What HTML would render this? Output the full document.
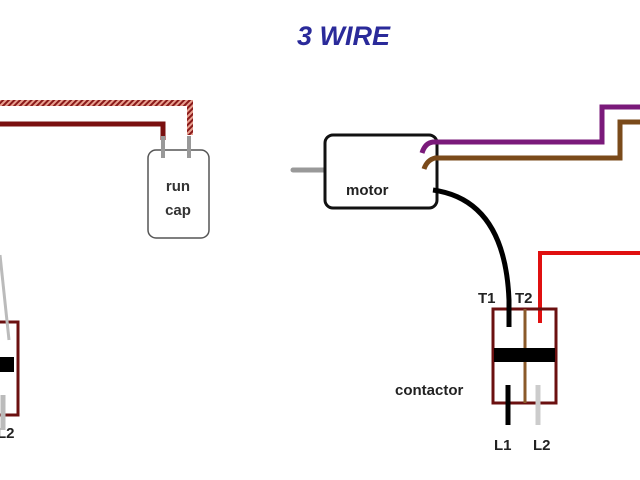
<!DOCTYPE html>
<html><head><style>
html,body{margin:0;padding:0;background:#fff;width:640px;height:480px;overflow:hidden}
svg{display:block}
text{font-family:"Liberation Sans",sans-serif;font-weight:bold}
</style></head><body>
<svg width="640" height="480" viewBox="0 0 640 480" xmlns="http://www.w3.org/2000/svg">
<defs>
<pattern id="hatch" width="4" height="4" patternUnits="userSpaceOnUse" patternTransform="rotate(45)">
<rect width="4" height="4" fill="#e8a090"/><rect width="2" height="4" fill="#8a1a1a"/>
</pattern>
</defs>
<rect width="640" height="480" fill="#fff"/>
<text x="297" y="45" font-size="27" font-style="italic" fill="#2a2a9a">3 WIRE</text>

<!-- left section -->
<path d="M0 103 H190 V135" fill="none" stroke="url(#hatch)" stroke-width="6"/>
<path d="M0 124 H163 V140" fill="none" stroke="#7a1010" stroke-width="5"/>
<rect x="148" y="150" width="61" height="88" rx="8" fill="#fff" stroke="#555" stroke-width="1.5"/>
<line x1="163" y1="136" x2="163" y2="158" stroke="#999" stroke-width="4"/>
<line x1="189" y1="136" x2="189" y2="158" stroke="#999" stroke-width="4"/>
<text x="178" y="191" font-size="15" fill="#333" text-anchor="middle">run</text>
<text x="178" y="215" font-size="15" fill="#333" text-anchor="middle">cap</text>
<path d="M-2 322 H18 V415 H-2" fill="none" stroke="#6b1010" stroke-width="3"/>
<rect x="0" y="357" width="14" height="15" fill="#000"/>
<line x1="0" y1="255" x2="9" y2="340" stroke="#bbb" stroke-width="3"/>
<line x1="3" y1="395" x2="3" y2="430" stroke="#bbb" stroke-width="5"/>
<text x="-3" y="438" font-size="15" fill="#222">L2</text>

<!-- right section -->
<line x1="293" y1="170" x2="344" y2="170" stroke="#999" stroke-width="5" stroke-linecap="round"/>
<rect x="325" y="135" width="112" height="73" rx="8" fill="#fff" stroke="#111" stroke-width="3"/>
<text x="346" y="195" font-size="15" fill="#222">motor</text>
<path d="M422 153 Q425 143 433 142 H602 V107 H640" fill="none" stroke="#7a1a7a" stroke-width="5"/>
<path d="M424 169 Q427 160 435 158 H620 V122 H640" fill="none" stroke="#7a4a1a" stroke-width="5"/>
<path d="M433 190 Q505 200 509 300 V327" fill="none" stroke="#000" stroke-width="5"/>
<path d="M540 323 V253 H640" fill="none" stroke="#e01010" stroke-width="4"/>
<rect x="493" y="309" width="63" height="94" fill="none" stroke="#6b1010" stroke-width="3"/>
<line x1="525" y1="309" x2="525" y2="403" stroke="#8a5a2a" stroke-width="3"/>
<rect x="494" y="348" width="61" height="14" fill="#000"/>
<path d="M509 300 V327" stroke="#000" stroke-width="5"/>
<line x1="508" y1="385" x2="508" y2="425" stroke="#000" stroke-width="5"/>
<line x1="538" y1="385" x2="538" y2="425" stroke="#ccc" stroke-width="5"/>
<text x="478" y="303" font-size="15" fill="#222">T1</text>
<text x="515" y="303" font-size="15" fill="#222">T2</text>
<text x="395" y="395" font-size="15" fill="#222">contactor</text>
<text x="494" y="450" font-size="15" fill="#222">L1</text>
<text x="533" y="450" font-size="15" fill="#222">L2</text>
</svg>
</body></html>
